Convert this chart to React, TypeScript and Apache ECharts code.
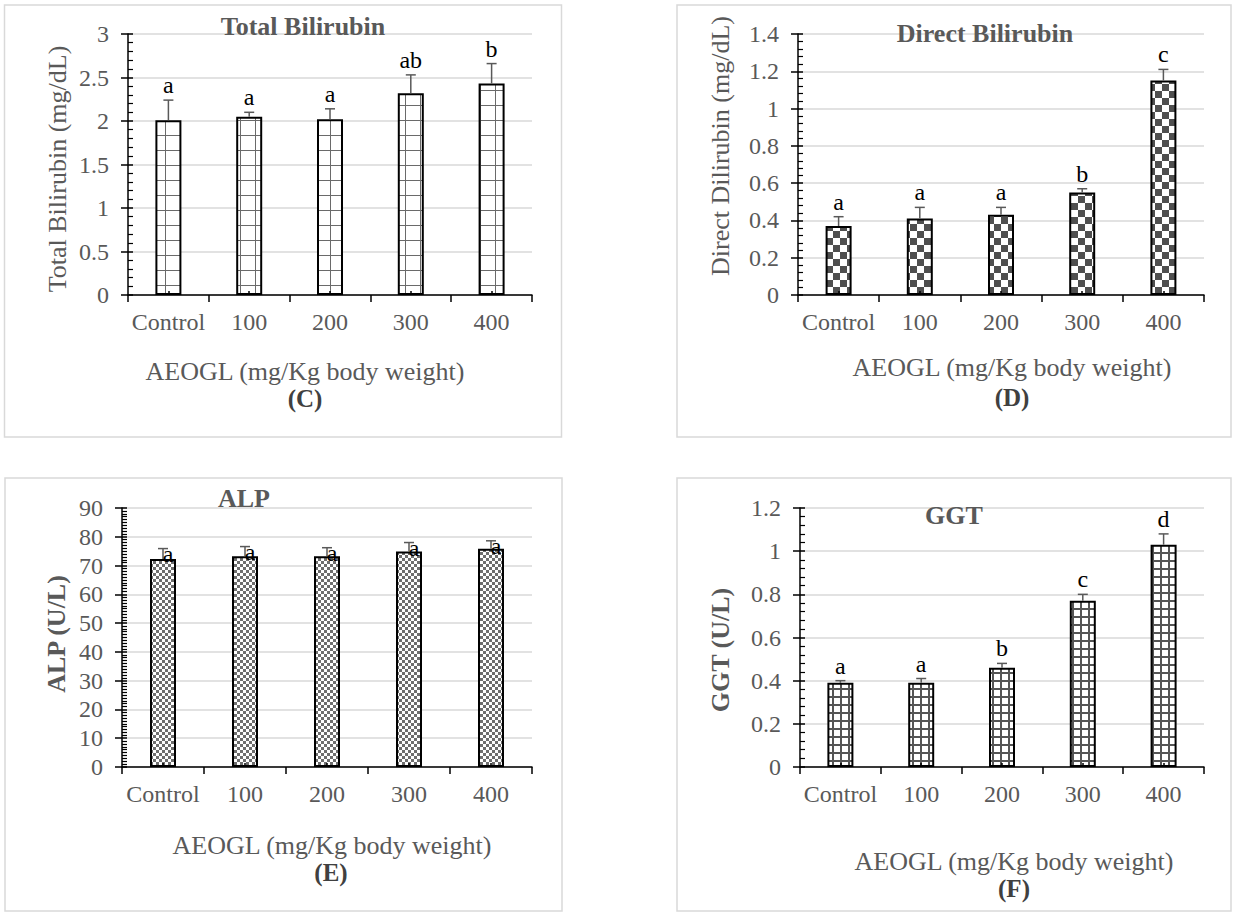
import React, { useEffect, useRef } from "react";
import * as echarts from "echarts";

const categories = ["Control", "100", "200", "300", "400"];

const tbMean = [2.01, 2.05, 2.02, 2.32, 2.43];
const tbErr = [0.23, 0.05, 0.12, 0.21, 0.23];
const tbLetters = ["a", "a", "a", "ab", "b"];

const dbMean = [0.37, 0.41, 0.43, 0.55, 1.15];
const dbErr = [0.05, 0.06, 0.04, 0.02, 0.06];
const dbLetters = ["a", "a", "a", "b", "c"];

const alpMean = [72.3, 73.2, 73.2, 74.9, 75.8];
const alpErr = [3.6, 3.4, 3.0, 3.1, 2.8];
const alpLetters = ["a", "a", "a", "a", "a"];

const ggtMean = [0.39, 0.39, 0.46, 0.77, 1.03];
const ggtErr = [0.01, 0.02, 0.02, 0.03, 0.05];
const ggtLetters = ["a", "a", "b", "c", "d"];

const FONT = "'Times New Roman', 'Liberation Serif', serif";
const GRAY = "#595959";

function makePattern(kind: string) {
  const c = document.createElement("canvas");
  let size = 8;
  if (kind === "gridLarge") size = 15;
  if (kind === "checkLarge") size = 14;
  if (kind === "checkSmall") size = 6;
  if (kind === "gridSmall") size = 8;
  c.width = size;
  c.height = size;
  const ctx = c.getContext("2d")!;
  ctx.fillStyle = "#ffffff";
  ctx.fillRect(0, 0, size, size);
  if (kind === "gridLarge") {
    ctx.fillStyle = "#6a6a6a";
    ctx.fillRect(0, 0, size, 1);
    ctx.fillRect(0, 0, 1, size);
  } else if (kind === "checkLarge") {
    ctx.fillStyle = "#4f4f4f";
    ctx.fillRect(0, 0, 7, 7);
    ctx.fillRect(7, 7, 7, 7);
  } else if (kind === "checkSmall") {
    ctx.fillStyle = "#6e6e6e";
    ctx.fillRect(0, 0, 3, 3);
    ctx.fillRect(3, 3, 3, 3);
  } else if (kind === "gridSmall") {
    ctx.fillStyle = "#555555";
    ctx.fillRect(0, 0, size, 2);
    ctx.fillRect(0, 0, 2, size);
  }
  return { image: c, repeat: "repeat", imageWidth: size, imageHeight: size };
}

export default function App() {
  const ref = useRef<HTMLDivElement>(null);
  useEffect(() => {
    if (!ref.current) return;
    const chart = echarts.init(ref.current, null, { renderer: "svg" });

    const panels = [
      {
        grid: { left: 128, top: 34, width: 404, height: 261 },
        mean: tbMean, err: tbErr, letters: tbLetters, max: 3, interval: 0.5, minor: 5,
        pattern: makePattern("gridLarge"), labelDx: 0, labelDy: -3, labelVA: "bottom",
      },
      {
        grid: { left: 798, top: 34, width: 406, height: 261 },
        mean: dbMean, err: dbErr, letters: dbLetters, max: 1.4, interval: 0.2, minor: 5,
        pattern: makePattern("checkLarge"), labelDx: 0, labelDy: -3, labelVA: "bottom",
      },
      {
        grid: { left: 122, top: 508, width: 410, height: 259 },
        mean: alpMean, err: alpErr, letters: alpLetters, max: 90, interval: 10, minor: 10,
        pattern: makePattern("checkSmall"), labelDx: 5, labelDy: 5, labelVA: "middle",
      },
      {
        grid: { left: 800, top: 508, width: 404, height: 259 },
        mean: ggtMean, err: ggtErr, letters: ggtLetters, max: 1.2, interval: 0.2, minor: 5,
        pattern: makePattern("gridSmall"), labelDx: 0, labelDy: -3, labelVA: "bottom",
      },
    ];

    const grids: any[] = [];
    const xAxes: any[] = [];
    const yAxes: any[] = [];
    const series: any[] = [];

    panels.forEach((p, i) => {
      grids.push({ ...p.grid, containLabel: false });
      xAxes.push({
        type: "category", gridIndex: i, data: categories, position: "bottom",
        axisLine: { show: true, lineStyle: { color: "#000", width: 1.5 } },
        axisTick: { show: true, length: 7, interval: 0, lineStyle: { color: "#000", width: 1.5 } },
        axisLabel: { color: GRAY, fontSize: 24, margin: 15, interval: 0, fontFamily: FONT },
        splitLine: { show: false },
      });
      xAxes.push({
        type: "category", gridIndex: i, data: categories, position: "bottom", z: 10,
        axisLine: { show: false },
        axisTick: { show: true, alignWithLabel: true, inside: true, length: 4, interval: 0, lineStyle: { color: "#000", width: 1.5 } },
        axisLabel: { show: false },
        splitLine: { show: false },
      });
      yAxes.push({
        type: "value", gridIndex: i, position: "left", min: 0, max: p.max, interval: p.interval,
        axisLine: { show: true, lineStyle: { color: "#000", width: 1.5 } },
        axisTick: { show: true, inside: true, length: 5, lineStyle: { color: "#000", width: 1.5 } },
        minorTick: { show: true, splitNumber: p.minor, length: 5, lineStyle: { color: "#000", width: 1.2 } },
        axisLabel: { color: GRAY, fontSize: 24, margin: 19, fontFamily: FONT },
        splitLine: { show: true, lineStyle: { color: "#d9d9d9", width: 1.5 } },
      });
      yAxes.push({
        type: "value", gridIndex: i, position: "left", min: 0, max: p.max, interval: p.interval,
        axisLine: { show: false },
        axisTick: { show: true, inside: false, length: 7, lineStyle: { color: "#000", width: 1.5 } },
        axisLabel: { show: false },
        splitLine: { show: false },
      });
      series.push({
        type: "bar", xAxisIndex: 2 * i, yAxisIndex: 2 * i, data: p.mean, barWidth: 26, z: 2,
        itemStyle: { color: p.pattern, borderColor: "#000", borderWidth: 2 },
      });
      const letters = p.letters;
      series.push({
        type: "custom", xAxisIndex: 2 * i, yAxisIndex: 2 * i, z: 4,
        data: p.mean.map((m, k) => [k, m, p.err[k]]),
        encode: { x: 0, y: 1 },
        renderItem: (params: any, api: any) => {
          const idx = api.value(0);
          const v = api.value(1);
          const e = api.value(2);
          const base = api.coord([idx, v]);
          const top = api.coord([idx, v + e]);
          const x = base[0];
          return {
            type: "group",
            children: [
              { type: "line", shape: { x1: x, y1: base[1], x2: x, y2: top[1] }, style: { stroke: GRAY, lineWidth: 1.5 } },
              { type: "line", shape: { x1: x - 5, y1: top[1], x2: x + 5, y2: top[1] }, style: { stroke: GRAY, lineWidth: 1.5 } },
              {
                type: "text", x: x + p.labelDx, y: top[1] + p.labelDy,
                style: { text: letters[params.dataIndex], fill: "#000", font: `24px ${FONT}`, align: "center", verticalAlign: p.labelVA },
              },
            ],
          };
        },
      });
    });

    const txt = (x: number, y: number, text: string, size: number, bold: boolean, color: string, rot = 0) => ({
      type: "text", x, y, rotation: rot, z: 20,
      style: { text, fill: color, font: `${bold ? "bold " : ""}${size}px ${FONT}`, align: "center", verticalAlign: "middle" },
    });
    const box = (x: number, y: number, w: number, h: number) => ({
      type: "rect", shape: { x, y, width: w, height: h }, z: -10,
      style: { fill: "#fff", stroke: "#d9d9d9", lineWidth: 1.5 },
    });

    const graphic = [
      box(4.5, 5, 557, 432),
      box(677, 5, 554, 432),
      box(5, 478, 557, 433),
      box(677, 478, 554, 433),
      txt(303, 26, "Total Bilirubin", 26, true, GRAY),
      txt(985, 33, "Direct Bilirubin", 26, true, GRAY),
      txt(244, 498, "ALP", 26, true, GRAY),
      txt(954, 515, "GGT", 26, true, GRAY),
      txt(57, 169, "Total Bilirubin (mg/dL)", 26, false, GRAY, Math.PI / 2),
      txt(720, 146, "Direct Dilirubin (mg/dL)", 26, false, GRAY, Math.PI / 2),
      txt(56, 634, "ALP (U/L)", 26, true, GRAY, Math.PI / 2),
      txt(720, 650, "GGT (U/L)", 26, true, GRAY, Math.PI / 2),
      txt(305, 371, "AEOGL (mg/Kg body weight)", 26, false, GRAY),
      txt(1012, 367, "AEOGL (mg/Kg body weight)", 26, false, GRAY),
      txt(332, 845, "AEOGL (mg/Kg body weight)", 26, false, GRAY),
      txt(1014, 861, "AEOGL (mg/Kg body weight)", 26, false, GRAY),
      txt(305, 398, "(C)", 25, true, "#404040"),
      txt(1012, 397, "(D)", 25, true, "#404040"),
      txt(331, 872, "(E)", 25, true, "#404040"),
      txt(1014, 888, "(F)", 25, true, "#404040"),
    ];

    chart.setOption({
      animation: false,
      backgroundColor: "#fff",
      textStyle: { fontFamily: FONT },
      grid: grids,
      xAxis: xAxes,
      yAxis: yAxes,
      series,
      graphic,
    });
    return () => chart.dispose();
  }, []);
  return (
    <div
      ref={ref}
      style={{ position: "absolute", left: 0, top: 0, width: 1235, height: 912 }}
    />
  );
}
